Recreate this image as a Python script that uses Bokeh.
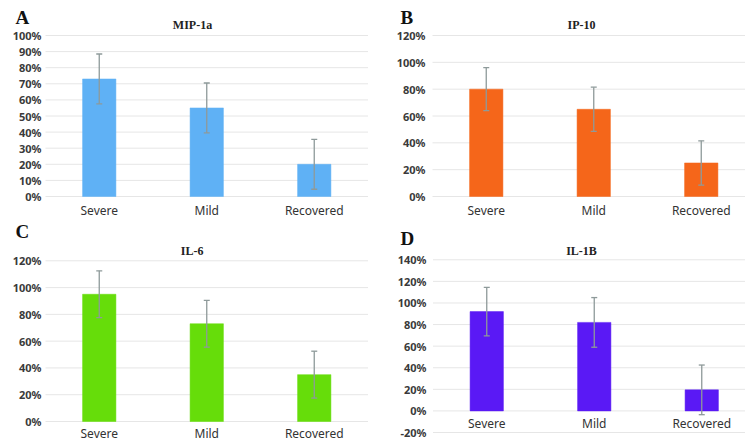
from bokeh.plotting import figure
from bokeh.layouts import column, row
from bokeh.models import ColumnDataSource, Range1d, Whisker, TeeHead
from bokeh.core.properties import value
from bokeh.embed import file_html
from bokeh.resources import INLINE

categories = ["Severe", "Mild", "Recovered"]

mip1a = [73, 55, 20]
mip1a_err = [15.5, 15.5, 15.5]
ip10 = [80, 65, 25]
ip10_err = [16, 16.5, 16.5]
il6 = [95, 73, 35]
il6_err = [17.5, 17.5, 17.5]
il1b = [92, 82, 19.5]
il1b_err = [22.5, 23, 23]

ticks_a = [0, 10, 20, 30, 40, 50, 60, 70, 80, 90, 100]
ticks_b = [0, 20, 40, 60, 80, 100, 120]
ticks_c = [0, 20, 40, 60, 80, 100, 120]
ticks_d = [-20, 0, 20, 40, 60, 80, 100, 120, 140]

LABEL_FONT = value("Noto Sans")
TITLE_FONT = value("Liberation Serif")
TEXT_COLOR = "#333333"


def make_panel(letter, title, vals, errs, color, ticks, canvas, plot_left, spacing,
               y_lo_px, y_hi_px, title_px, letter_px, ystand, xstand):
    cx0, cy0, cx1, cy1 = canvas
    w, h = cx1 - cx0, cy1 - cy0
    vmin, vmax = ticks[0], ticks[-1]
    xs = -0.5 + (cx0 - plot_left) / spacing
    xe = -0.5 + (cx1 - plot_left) / spacing
    ppu = (y_lo_px - y_hi_px) / (vmax - vmin)
    ys = vmin - (cy1 - y_lo_px) / ppu
    ye = vmax + (y_hi_px - cy0) / ppu

    p = figure(width=w, height=h, output_backend="svg", toolbar_location=None,
               x_range=Range1d(xs, xe), y_range=Range1d(ys, ye),
               x_axis_location=None, y_axis_location=None, min_border=0)
    p.outline_line_color = None
    p.grid.visible = False
    p.background_fill_color = "white"
    p.border_fill_color = "white"

    n = len(categories)
    xi = list(range(n))
    # grid lines + tick labels
    gsrc = ColumnDataSource(dict(y=ticks, lab=[f"{t}%" for t in ticks]))
    p.segment(x0=-0.5, x1=n - 0.5, y0="y", y1="y", source=gsrc,
              line_color="#e6e6e6", line_width=1)
    p.text(x=-0.5, y="y", text="lab", source=gsrc, x_offset=-ystand,
           text_align="right", text_baseline="middle", text_font=LABEL_FONT,
           text_font_size="11px", text_font_style="bold", text_color="#3a3a3a")

    src = ColumnDataSource(dict(
        x=xi, cat=categories, top=vals,
        upper=[v + e for v, e in zip(vals, errs)],
        lower=[v - e for v, e in zip(vals, errs)],
    ))
    p.vbar(x="x", top="top", bottom=0, width=0.31, source=src, fill_color=color,
           line_color=color, line_alpha=0.5)
    wc = "#8e9a9a"
    p.add_layout(Whisker(base="x", upper="upper", lower="lower", source=src,
                         line_color=wc, line_width=1.3, level="overlay",
                         upper_head=TeeHead(size=6, line_color=wc, line_width=1.3),
                         lower_head=TeeHead(size=6, line_color=wc, line_width=1.3)))

    # category labels just below the 0% line
    p.text(x="x", y=0, text="cat", source=src, y_offset=xstand, text_align="center",
           text_baseline="top", text_font=LABEL_FONT, text_font_size="12px",
           text_color=TEXT_COLOR)

    # panel title and letter
    p.text(x=[-0.5], y=[vmax], text=[title], x_offset=title_px[0] - plot_left,
           y_offset=title_px[1] - y_hi_px, text_align="center", text_baseline="middle",
           text_font=TITLE_FONT, text_font_style="bold", text_font_size="12px",
           text_color="#222222")
    p.text(x=[-0.5], y=[vmax], text=[letter], x_offset=letter_px[0] - plot_left,
           y_offset=letter_px[1] - y_hi_px, text_align="left", text_baseline="middle",
           text_font=TITLE_FONT, text_font_style="bold", text_font_size="19px",
           text_color="#111111")
    return p


pA = make_panel("A", "MIP-1a", mip1a, mip1a_err, "#5fb1f5", ticks_a,
                (0, 0, 372, 221), 45, 107.5, 196, 35, (192, 24.5), (15, 17), 4, 5)
pB = make_panel("B", "IP-10", ip10, ip10_err, "#f5661a", ticks_b,
                (372, 0, 745, 221), 432, 107.5, 196, 35, (581, 24.5), (400, 17), 7, 5)
pC = make_panel("C", "IL-6", il6, il6_err, "#66dd0a", ticks_c,
                (0, 221, 372, 442), 45, 107.5, 421, 260.3, (191.7, 250), (15, 231), 4, 3.5)
pD = make_panel("D", "IL-1B", il1b, il1b_err, "#5a19f5", ticks_d,
                (372, 221, 745, 442), 432.5, 107.5, 432, 259.3, (581, 250.5), (400, 238), 6.5, 4)

layout = column(row(pA, pB), row(pC, pD))
open("out.html", "w").write(file_html(layout, INLINE))
